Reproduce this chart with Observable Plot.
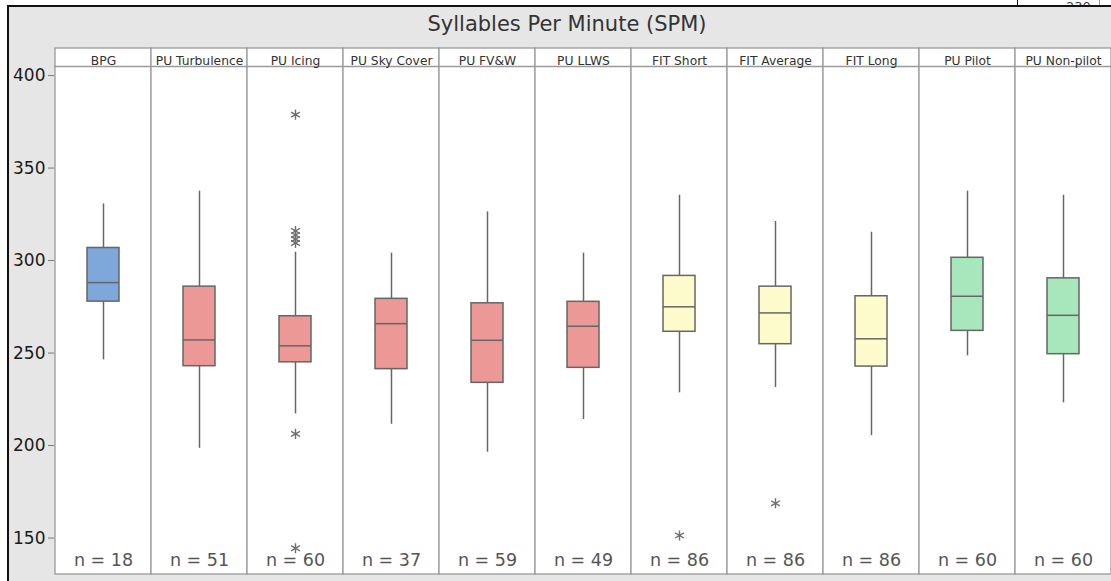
<!DOCTYPE html>
<html>
<head>
<meta charset="utf-8">
<script src="https://cdn.jsdelivr.net/npm/d3@7"></script>
<script src="https://cdn.jsdelivr.net/npm/@observablehq/plot@0.6"></script>
<style>
  body { margin: 0; background: #fff; }
  #page { position: relative; width: 1111px; height: 581px; overflow: hidden; background: #fff; font-family: "DejaVu Sans", sans-serif; }
  #frame { position: absolute; left: 7px; top: 5px; right: 0; bottom: 0; background: #e6e6e6; border-left: 2px solid #111; border-top: 2px solid #111; }
  #title { position: absolute; left: 0; top: 10px; width: 1134px; text-align: center; font-size: 21px; color: #333; line-height: 28px; }
  #chart { position: absolute; left: 0; top: 48px; }
  #chart svg { overflow: visible; }
  #chart g[aria-label="y-axis tick"] { stroke: #777; }
  #stub { position: absolute; left: 1017px; top: 0; width: 81px; height: 5px; overflow: hidden; border-left: 1.5px solid #111; border-right: 1px solid #999; background: #fff; }
  #stub span { position: absolute; left: 48px; bottom: -9px; font-size: 13px; color: #444; }
</style>
</head>
<body>
<div id="page">
  <div id="frame"></div>
  <div id="stub"><span>230</span></div>
  <div id="title">Syllables Per Minute (SPM)</div>
  <div id="chart"></div>
</div>
<script>
const categories = ["BPG", "PU Turbulence", "PU Icing", "PU Sky Cover", "PU FV&W", "PU LLWS", "FIT Short", "FIT Average", "FIT Long", "PU Pilot", "PU Non-pilot"];
const groups = ["BPG", "PU", "PU", "PU", "PU", "PU", "FIT", "FIT", "FIT", "Role", "Role"];
const counts = [18, 51, 60, 37, 59, 49, 86, 86, 86, 60, 60];
const whiskerLow = [246.3, 198.5, 217.1, 211.5, 196.4, 214.1, 228.5, 231.4, 205.4, 248.5, 223.1];
const q1 = [277.8, 242.9, 245.0, 241.3, 233.9, 242.0, 261.5, 254.8, 242.7, 262.0, 249.4];
const median = [288.1, 257.1, 253.9, 265.9, 256.9, 264.5, 275.0, 271.7, 257.7, 280.7, 270.4];
const q3 = [306.8, 285.9, 269.9, 279.3, 276.9, 277.7, 291.7, 285.9, 280.7, 301.5, 290.4];
const whiskerHigh = [330.6, 337.5, 304.5, 304.0, 326.3, 304.0, 335.3, 321.1, 315.3, 337.5, 335.3];
const outlierCategory = ["PU Icing", "PU Icing", "PU Icing", "PU Icing", "PU Icing", "PU Icing", "PU Icing", "FIT Short", "FIT Average"];
const outlierValue = [378.9, 316.0, 313.8, 311.6, 309.5, 206.3, 144.5, 151.4, 168.8];
const yTicks = [150, 200, 250, 300, 350, 400];
const groupNames = ["BPG", "PU", "FIT", "Role"];
const groupColors = ["#7ea7da", "#ec9896", "#fdfbcb", "#a8e6bc"];

const yMin = 130.3, yMax = 404.9;

const rows = categories.map((cat, i) => ({
  cat, group: groups[i], n: counts[i],
  lo: whiskerLow[i], q1: q1[i], med: median[i], q3: q3[i], hi: whiskerHigh[i]
}));
const outliers = outlierCategory.map((cat, i) => ({cat, v: outlierValue[i]}));

const chart = Plot.plot({
  width: 1111,
  height: 528,
  marginLeft: 54,
  marginRight: 0,
  marginTop: 18,
  marginBottom: 2,
  x: {type: "band", domain: categories, padding: 0, axis: null},
  y: {domain: [yMin, yMax], axis: null},
  color: {domain: groupNames, range: groupColors},
  style: {fontFamily: "DejaVu Sans", background: "transparent", overflow: "visible"},
  marks: [
    Plot.barY(categories, {x: d => d, y1: () => yMin, y2: () => yMax, insetTop: -18, fill: "white", stroke: "#9a9a9a", strokeWidth: 1.3}),
    Plot.ruleY([yMax], {stroke: "#9a9a9a", strokeWidth: 1.3}),
    Plot.text(categories, {x: d => d, text: d => d, frameAnchor: "top", lineAnchor: "bottom", dy: -1.5, fontSize: 12.3, fill: "#333"}),
    Plot.axisY({ticks: yTicks, tickSize: 6, tickPadding: 3, fontSize: 17, fill: "#1a1a1a", label: null}),
    Plot.ruleX(rows, {x: "cat", y1: "lo", y2: "q1", stroke: "#666", strokeWidth: 1.5}),
    Plot.ruleX(rows, {x: "cat", y1: "q3", y2: "hi", stroke: "#666", strokeWidth: 1.5}),
    Plot.barY(rows, {x: "cat", y1: "q1", y2: "q3", fill: "group", stroke: "#666", strokeWidth: 1.5, insetLeft: 32, insetRight: 32}),
    Plot.tickY(rows, {x: "cat", y: "med", stroke: "#666", strokeWidth: 1.5, insetLeft: 32, insetRight: 32}),
    Plot.dot(outliers, {x: "cat", y: "v", symbol: "asterisk", r: 4.8, stroke: "#6f6f6f", strokeWidth: 1.4}),
    Plot.text(rows, {x: "cat", text: d => `n = ${d.n}`, frameAnchor: "bottom", lineAnchor: "bottom", dy: -8.5, fontSize: 17.5, fill: "#555"})
  ]
});
document.getElementById("chart").appendChild(chart);
</script>
</body>
</html>
